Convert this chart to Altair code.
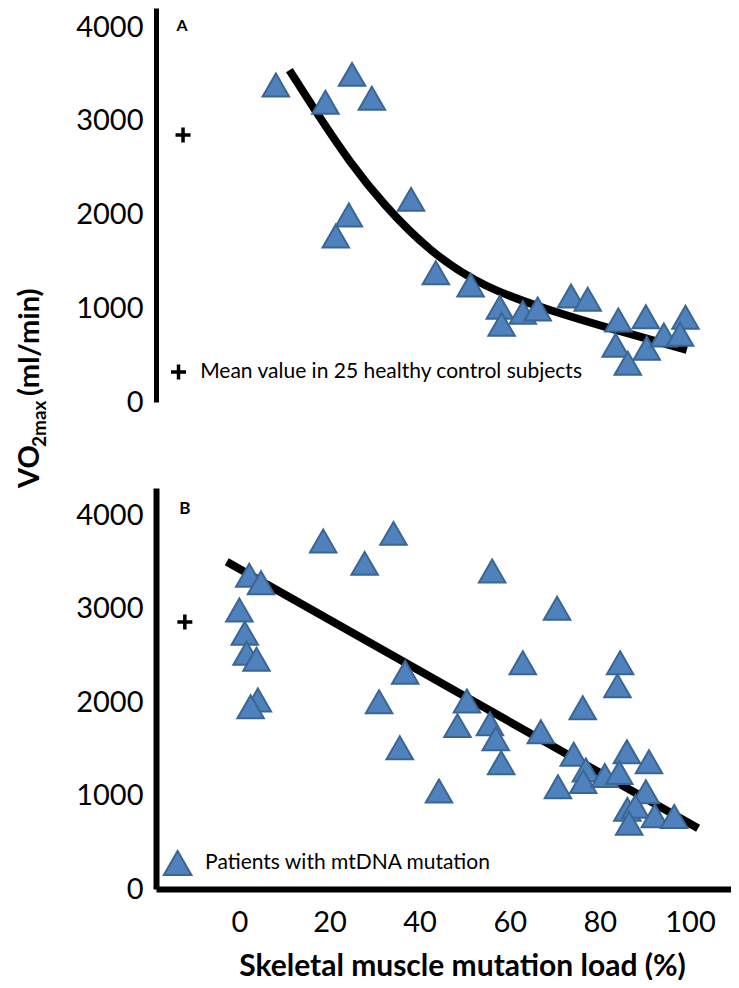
import altair as alt
import pandas as pd

# ---------------- data ----------------
# Panel A: patients (skeletal muscle mutation load %, VO2max ml/min)
a_load = [8.1, 19.1, 25.0, 29.4, 24.3, 21.4, 38.1, 43.6, 51.3, 57.8, 58.2, 62.9,
          66.2, 73.6, 77.3, 84.1, 83.5, 86.2, 90.2, 90.4, 94.2, 99.0, 97.8]
a_vo2 = [3383, 3199, 3497, 3241, 1996, 1772, 2163, 1380, 1249, 1011, 829, 957,
         993, 1131, 1096, 875, 605, 413, 910, 573, 715, 904, 723]
# Panel A fitted curve
a_fit_load = [11.1, 17.9, 24.5, 31.9, 42.3, 54.1, 68.9, 83.7, 99.3]
a_fit_vo2 = [3543, 3030, 2560, 2110, 1600, 1225, 975, 765, 555]

# Panel B: patients
b_load = [18.6, 34.2, 27.8, 2.2, 4.8, 0.0, 1.2, 1.6, 3.8, 4.1,
          2.5, 36.8, 31.0, 35.6, 44.3, 50.5, 48.4, 56.1, 70.5, 62.9,
          84.5, 83.9, 76.2, 55.6, 56.9, 58.1, 66.9, 74.2, 70.7, 76.9,
          76.3, 81.1, 86.0, 84.3, 90.9, 90.2, 86.1, 87.9, 86.5, 92.2, 96.5]
b_vo2 = [3722, 3804, 3483, 3355, 3276, 2984, 2735, 2521, 2457, 2021,
         1950, 2318, 2003, 1511, 1048, 2011, 1747, 3401, 3002, 2420,
         2420, 2174, 1939, 1768, 1607, 1351, 1682, 1441, 1094, 1273,
         1148, 1214, 1468, 1246, 1361, 1041, 852, 884, 703, 784, 775]
# Panel B fitted line
b_fit_load = [-2.8, 101.8]
b_fit_vo2 = [3501, 649]

# Mean value in 25 healthy controls (drawn left of the y axis)
ctrl_a_x, ctrl_a_y = [-12.5], [2850]
ctrl_b_x, ctrl_b_y = [-12.1], [2856]

# legends / panel letters (in data coordinates)
leg_a_sym_x, leg_a_sym_y = [-13.5], [320]
leg_a_txt_x, leg_a_txt_y = [-8.7], [320]
leg_a_text = ["Mean value in 25 healthy control subjects"]
leg_b_sym_x, leg_b_sym_y = [-13.7], [278]
leg_b_txt_x, leg_b_txt_y = [-7.6], [278]
leg_b_text = ["Patients with mtDNA mutation"]
letter_a = {"x": [-12.7], "y": [4013], "t": ["A"]}
letter_b = {"x": [-12.1], "y": [4064], "t": ["B"]}

x_ticks = [0, 20, 40, 60, 80, 100]
y_ticks = [0, 1000, 2000, 3000, 4000]

FONT = "Lato"
BLUE = "#4F81BD"
EDGE = "#3A6693"
PLUS = "M-1,0L1,0M0,-1L0,1"

# ---------------- encodings ----------------
x_scale = alt.Scale(domain=[-18.5, 109.1], nice=False, zero=False)
x_axis = alt.Axis(values=x_ticks, format="d", ticks=False, tickSize=0, grid=False,
                  domainColor="black", domainWidth=6,
                  labelFont=FONT, labelFontSize=29, labelColor="black",
                  labelPadding=33, labelBaseline="middle",
                  labelFlush=False, labelOverlap=False,
                  title="Skeletal muscle mutation load (%)", titleFont=FONT,
                  titleFontSize=30, titleFontWeight="bold", titleColor="black",
                  titleX=306, titleY=77, titleAlign="center", titleBaseline="middle")
X = alt.X("x:Q", scale=x_scale, axis=x_axis)


def y_enc(domain, rng, dw):
    return alt.Y("y:Q",
                 scale=alt.Scale(domain=domain, range=rng, nice=False, zero=False),
                 axis=alt.Axis(orient="left", values=y_ticks, format="d", ticks=False,
                               tickSize=0, grid=False, domainColor="black", domainWidth=dw,
                               labelFont=FONT, labelFontSize=29, labelColor="black",
                               labelPadding=13, labelOverlap=False, labelFlush=False,
                               title=""))


YA = y_enc([0, 4205], [394, 0], 5)
YB = y_enc([0, 4289], [881, 480], 6)


def tri(df, Y, size=700):
    return alt.Chart(df).mark_point(shape="triangle-up", filled=True, size=size,
                                    fill=BLUE, stroke=EDGE, strokeWidth=2,
                                    fillOpacity=1, strokeOpacity=1).encode(x=X, y=Y)


def fit(df, Y, interp):
    return alt.Chart(df).mark_line(color="black", strokeWidth=8, interpolate=interp,
                                   strokeCap="butt").encode(x=X, y=Y)


def plus(df, Y):
    return alt.Chart(df).mark_point(shape=PLUS, filled=False, size=225, stroke="black",
                                    strokeWidth=3.5, opacity=1).encode(x=X, y=Y)


def label(df, Y, size, weight="normal", align="left"):
    return alt.Chart(df).mark_text(font=FONT, fontSize=size, fontWeight=weight,
                                   align=align, baseline="middle",
                                   color="black").encode(x=X, y=Y, text="t:N")


panel_a = alt.layer(
    fit(pd.DataFrame({"x": a_fit_load, "y": a_fit_vo2}), YA, "basis"),
    tri(pd.DataFrame({"x": a_load, "y": a_vo2}), YA),
    plus(pd.DataFrame({"x": ctrl_a_x, "y": ctrl_a_y}), YA),
    plus(pd.DataFrame({"x": leg_a_sym_x, "y": leg_a_sym_y}), YA),
    label(pd.DataFrame({"x": leg_a_txt_x, "y": leg_a_txt_y, "t": leg_a_text}), YA, 21),
    label(pd.DataFrame(letter_a), YA, 16, "bold", "center"),
)

panel_b = alt.layer(
    fit(pd.DataFrame({"x": b_fit_load, "y": b_fit_vo2}), YB, "linear"),
    tri(pd.DataFrame({"x": b_load, "y": b_vo2}), YB),
    plus(pd.DataFrame({"x": ctrl_b_x, "y": ctrl_b_y}), YB),
    tri(pd.DataFrame({"x": leg_b_sym_x, "y": leg_b_sym_y}), YB, 760),
    label(pd.DataFrame({"x": leg_b_txt_x, "y": leg_b_txt_y, "t": leg_b_text}), YB, 21),
    label(pd.DataFrame(letter_b), YB, 17, "bold", "center"),
)

# shared y-axis title: VO2max (ml/min), written vertically with a subscript
def ytitle(text, xpx, ypx, size):
    return alt.Chart(pd.DataFrame({"t": [text]})).mark_text(
        angle=270, align="left", baseline="alphabetic", font=FONT, fontSize=size,
        fontWeight="bold", color="black").encode(
        x=alt.value(xpx), y=alt.value(ypx), text="t:N")


title_layers = alt.layer(
    ytitle("VO", -117, 480, 29),
    ytitle("2max", -110, 439, 19),
    ytitle("(ml/min)", -117, 388, 29),
)

chart = alt.layer(panel_a, panel_b, title_layers).resolve_scale(
    y="independent").resolve_axis(y="independent").properties(
    width=575, height=881,
    autosize=alt.AutoSizeParams(type="none"),
    padding={"left": 148, "top": 0, "right": 0, "bottom": 91},
).configure_view(stroke="transparent")

chart.save("out.html", embed_options={"renderer": "svg", "actions": False})
